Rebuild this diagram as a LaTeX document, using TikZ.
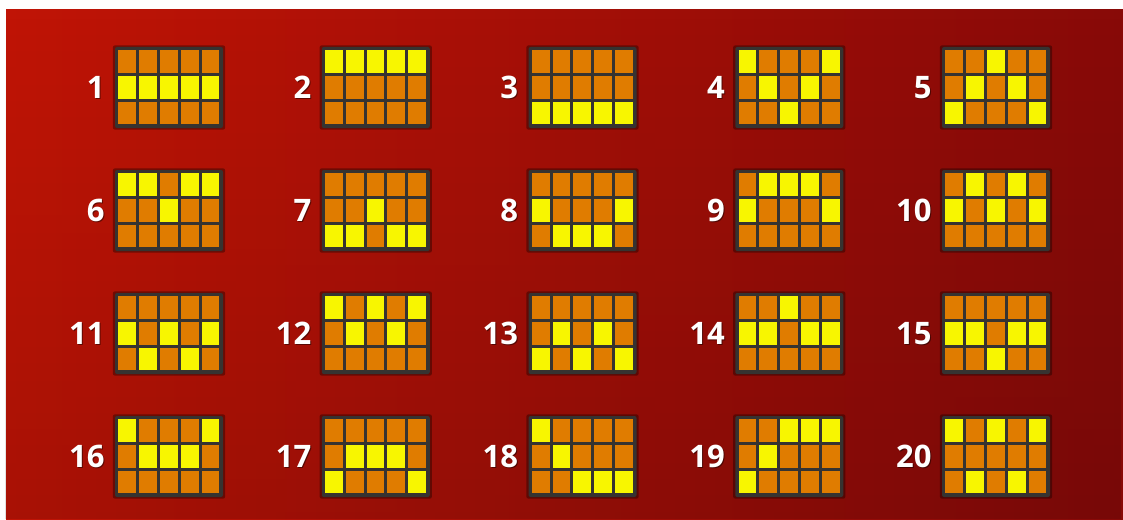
\documentclass[tikz,border=0pt]{standalone}
\usepackage{fontspec}
\newfontfamily\lblfont{Open Sans}
\usetikzlibrary{calc,shadows,fadings}
\definecolor{ylw}{RGB}{248,246,0}
\definecolor{org}{RGB}{224,124,0}
\definecolor{boxgray}{RGB}{54,51,49}
\definecolor{redL}{RGB}{192,20,6}
\definecolor{redM}{RGB}{156,14,8}
\definecolor{redR}{RGB}{136,10,8}
\tikzset{
  gridbox/.style={rectangle, rounded corners=2pt, minimum width=108pt, minimum height=81pt,
    inner sep=0pt, fill=boxgray, general shadow={fill=black, opacity=0.35, shadow scale=1.04}},
  lbl/.style={font={\lblfont\bfseries\fontsize{31}{31}\selectfont}, text=white, inner sep=0pt, anchor=east},
  lblshadow/.style={lbl, text=black, opacity=0.45},
}
\newcommand\pcell[3]{%
  \ifnum#1=1 \def\cc{ylw}\else\def\cc{org}\fi
  \fill[\cc] ($(B.north west)+({3.5+#2*20.8},{3.5+#3*25.667})$) rectangle ++(17.8,22.667);}
\newcommand\prow[6]{\pcell{#2}{0}{#1}\pcell{#3}{1}{#1}\pcell{#4}{2}{#1}\pcell{#5}{3}{#1}\pcell{#6}{4}{#1}}
\begin{document}
\begin{tikzpicture}[x=1pt,y=-1pt]
\useasboundingbox (0,0) rectangle (1123,519);
\fill[white] (0,0) rectangle (1123,519);
\shade[left color=redL, middle color=redM, right color=redR] (6,10) rectangle (1123,519);
\fill[black, path fading=north, opacity=0.12] (6,10) rectangle (1123,519);
\foreach \n/\ra/\rb/\rc [count=\k from 0] in {
  1/00000/11111/00000, 2/11111/00000/00000, 3/00000/00000/11111, 4/10001/01010/00100, 5/00100/01010/10001,
  6/11011/00100/00000, 7/00000/00100/11011, 8/00000/10001/01110, 9/01110/10001/00000, 10/01010/10101/00000,
  11/00000/10101/01010, 12/10101/01010/00000, 13/00000/01010/10101, 14/00100/11011/00000, 15/00000/11011/00100,
  16/10001/01110/00000, 17/00000/01110/10001, 18/10000/01000/00111, 19/00111/01000/10000, 20/10101/00000/01010}{
  \pgfmathtruncatemacro\col{mod(\k,5)}
  \pgfmathtruncatemacro\row{div(\k,5)}
  \node[gridbox] (b\n) at ({169+206.75*\col},{87.5+123*\row}) {};
  \coordinate (B) at (b\n.north west);
  \expandafter\prow\expandafter0\ra
  \expandafter\prow\expandafter1\rb
  \expandafter\prow\expandafter2\rc
  \node[lblshadow] (s\n) at ([xshift=-9pt,yshift=-1pt]b\n.west) {\n};
  \node[lbl] (l\n) at ([xshift=-10pt]b\n.west) {\n};
}
\end{tikzpicture}
\end{document}
